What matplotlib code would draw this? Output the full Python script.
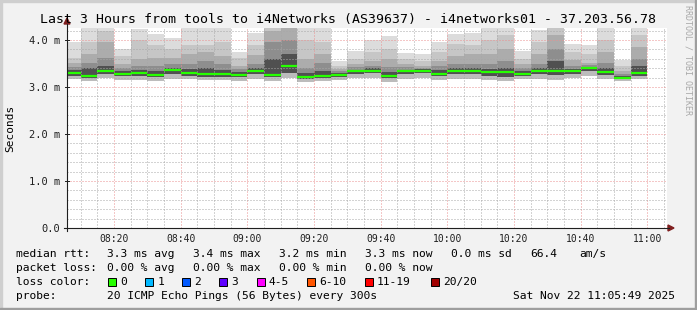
import numpy as np
import matplotlib
matplotlib.use("Agg")
import matplotlib.pyplot as plt
from matplotlib.lines import Line2D
from matplotlib.patches import Rectangle, Polygon

# ========================================
# Dados (ms), um passo de 5 min a partir de 08:05
# ========================================
rtt_max = [3.95, 4.40, 4.40, 3.81, 4.24, 4.13, 4.04, 4.40, 4.40, 4.40, 3.75, 4.15,
           4.40, 4.40, 4.40, 4.40, 3.56, 3.77, 3.99, 4.08, 3.73, 3.71, 3.96, 4.12,
           4.14, 4.30, 4.30, 3.76, 4.21, 4.40, 3.92, 3.89, 4.30, 3.57, 4.30]
rtt_p19 = [3.62, 3.96, 4.20, 3.65, 4.00, 3.90, 3.80, 3.90, 3.90, 3.95, 3.62, 3.90,
           4.35, 4.35, 4.00, 3.95, 3.45, 3.60, 3.75, 3.80, 3.60, 3.55, 3.75, 3.92,
           3.90, 4.00, 4.10, 3.60, 3.95, 4.30, 3.75, 3.70, 4.00, 3.45, 4.10]
rtt_p17 = [3.50, 3.70, 3.95, 3.48, 3.60, 3.62, 3.62, 3.70, 3.75, 3.65, 3.45, 3.68,
           4.20, 4.25, 3.60, 3.70, 3.38, 3.48, 3.55, 3.60, 3.48, 3.45, 3.55, 3.65,
           3.70, 3.70, 3.80, 3.48, 3.70, 4.10, 3.58, 3.52, 3.75, 3.35, 3.85]
rtt_p15 = [3.42, 3.52, 3.62, 3.40, 3.45, 3.45, 3.50, 3.48, 3.55, 3.48, 3.38, 3.50,
           3.95, 4.00, 3.40, 3.50, 3.33, 3.42, 3.45, 3.42, 3.42, 3.40, 3.45, 3.50,
           3.50, 3.50, 3.55, 3.40, 3.50, 3.80, 3.45, 3.46, 3.52, 3.28, 3.60]
rtt_p13 = [3.36, 3.40, 3.45, 3.33, 3.36, 3.35, 3.40, 3.38, 3.40, 3.36, 3.32, 3.40,
           3.60, 3.70, 3.30, 3.35, 3.29, 3.37, 3.40, 3.32, 3.37, 3.38, 3.36, 3.40,
           3.40, 3.38, 3.40, 3.34, 3.40, 3.55, 3.38, 3.43, 3.40, 3.23, 3.45]
rtt_median = [3.30, 3.23, 3.35, 3.28, 3.30, 3.26, 3.36, 3.30, 3.28, 3.28, 3.25, 3.33,
              3.26, 3.45, 3.21, 3.23, 3.26, 3.33, 3.35, 3.23, 3.33, 3.35, 3.28, 3.35,
              3.35, 3.31, 3.31, 3.28, 3.33, 3.33, 3.33, 3.41, 3.31, 3.19, 3.30]
rtt_p5 = [3.24, 3.20, 3.28, 3.23, 3.24, 3.21, 3.28, 3.24, 3.22, 3.22, 3.21, 3.27,
          3.21, 3.30, 3.18, 3.20, 3.22, 3.28, 3.30, 3.19, 3.27, 3.29, 3.23, 3.28,
          3.28, 3.24, 3.22, 3.24, 3.27, 3.25, 3.27, 3.33, 3.25, 3.17, 3.24]
rtt_min = [3.17, 3.12, 3.19, 3.15, 3.14, 3.13, 3.18, 3.16, 3.14, 3.14, 3.13, 3.18,
           3.13, 3.20, 3.10, 3.12, 3.15, 3.20, 3.20, 3.10, 3.18, 3.20, 3.14, 3.18,
           3.18, 3.15, 3.13, 3.16, 3.18, 3.14, 3.19, 3.24, 3.17, 3.12, 3.16]

tick_labels = ["08:20", "08:40", "09:00", "09:20", "09:40", "10:00", "10:20", "10:40", "11:00"]
y_labels = ["0.0", "1.0 m", "2.0 m", "3.0 m", "4.0 m"]
loss_labels = ["0", "1", "2", "3", "4-5", "6-10", "11-19", "20/20"]
loss_colors = ["#26ff00", "#00b8ff", "#0059ff", "#5e00ff", "#ff00ff", "#ff5500", "#ff0000", "#a10000"]

# ========================================
# Layout (pixels)
# ========================================
W, H = 697, 310
MONO = "DejaVu Sans Mono"


def fx(px):
    return px / W


def fy(py):
    return 1 - py / H


def minutes(hhmm):
    h, m = hhmm.split(":")
    return int(h) * 60 + int(m) - 480


fig = plt.figure(figsize=(W / 100, H / 100), dpi=100)
fig.patch.set_facecolor("#f2f2f2")

ax = fig.add_axes([fx(67), fy(228), 600 / W, 200 / H])
ax.set_facecolor("white")
for s in ax.spines.values():
    s.set_visible(False)

# ========================================
# Fumaça (bandas) + mediana
# ========================================
starts = 5 + 5 * np.arange(len(rtt_median))
levels = [np.array(v) for v in (rtt_max, rtt_p19, rtt_p17, rtt_p15, rtt_p13, rtt_p5, rtt_min)]
smoke = ["#dcdcdc", "#c6c6c6", "#acacac", "#8e8e8e", "#505050", "#bcbcbc"]
for upper, lower, c in zip(levels[:-1], levels[1:], smoke):
    ax.bar(starts, upper - lower, bottom=lower, width=5, align="edge",
           color=c, linewidth=0, zorder=1)
ax.hlines(rtt_median, starts, starts + 5, colors="#26ff00", linewidth=1.6, zorder=4)

ax.set_xlim(5.9, 185.9)
ax.set_ylim(0, 200 / 47)

# grade pontilhada por cima da fumaça
ax.set_yticks([0, 1, 2, 3, 4], y_labels)
ax.set_yticks(np.arange(0, 4.25, 0.2), minor=True)
ax.set_xticks([minutes(t) for t in tick_labels], tick_labels)
ax.set_xticks(np.arange(10, 186, 5), minor=True)
ax.grid(which="minor", color="#a8a8a8", linestyle=(0, (1, 2)), linewidth=0.72, zorder=2)
ax.grid(which="major", color="#eb9090", linestyle=(0, (1, 2)), linewidth=0.72, zorder=3)
ax.set_axisbelow(False)

ax.tick_params(axis="both", which="both", length=0, colors="#1f1f1f")
ax.tick_params(axis="y", which="major", pad=5, labelsize=7.5)
ax.tick_params(axis="x", which="major", pad=4, labelsize=7)
for lab in ax.get_xticklabels() + ax.get_yticklabels():
    lab.set_family(MONO)

# ========================================
# Eixos com setas
# ========================================
axis_col = "#1f1f1f"
arrow_col = "#801f1f"
fig.add_artist(Line2D([fx(67), fx(67)], [fy(231), fy(24)], color=axis_col, lw=0.8))
fig.add_artist(Line2D([fx(64), fx(669)], [fy(228), fy(228)], color=axis_col, lw=0.8))
fig.add_artist(Polygon([(fx(64), fy(24)), (fx(70), fy(24)), (fx(67), fy(18))],
                       closed=True, color=arrow_col, transform=fig.transFigure))
fig.add_artist(Polygon([(fx(668), fy(225)), (fx(668), fy(231)), (fx(674), fy(228))],
                       closed=True, color=arrow_col, transform=fig.transFigure))
for yv in [0, 1, 2, 3, 4]:
    py = 228 - yv * 47
    fig.add_artist(Line2D([fx(65), fx(69)], [fy(py), fy(py)], color=axis_col, lw=0.7))

# ========================================
# Textos
# ========================================
fig.text(fx(347.5), fy(19), "Last 3 Hours from tools to i4Networks (AS39637) - i4networks01 - 37.203.56.78",
         family=MONO, fontsize=9.5, ha="center", va="center")
fig.text(fx(10), fy(128), "Seconds", family=MONO, fontsize=8, rotation=90, ha="center", va="center")
fig.text(fx(688), fy(60), "RRDTOOL / TOBI OETIKER", family=MONO, fontsize=6, rotation=270,
         color="#a8a8a8", ha="center", va="center")

rows = [
    (254, [(16, "median rtt:"), (107, "3.3 ms avg"), (193, "3.4 ms max"), (279, "3.2 ms min"),
           (365, "3.3 ms now"), (451, "0.0 ms sd"), (530, "66.4"), (579, "am/s")]),
    (268, [(16, "packet loss:"), (107, "0.00 % avg"), (193, "0.00 % max"), (279, "0.00 % min"),
           (365, "0.00 % now")]),
    (282, [(16, "loss color:")]),
    (296, [(16, "probe:"), (107, "20 ICMP Echo Pings (56 Bytes) every 300s"),
           (513, "Sat Nov 22 11:05:49 2025")]),
]
for py, items in rows:
    for px, txt in items:
        fig.text(fx(px), fy(py), txt, family=MONO, fontsize=8.1, ha="left", va="center")

box_x = [108, 145.3, 182.3, 219.3, 256.7, 307.3, 365, 430.7]
for bx, lab, col in zip(box_x, loss_labels, loss_colors):
    fig.add_artist(Rectangle((fx(bx), fy(286)), 8 / W, 8 / H, facecolor=col,
                             edgecolor="black", linewidth=0.7, transform=fig.transFigure))
    fig.text(fx(bx + 12), fy(282), lab, family=MONO, fontsize=8.1, ha="left", va="center")

# moldura
fig.add_artist(Rectangle((0, fy(2)), 1, 2 / H, color="#cfcfcf", transform=fig.transFigure))
fig.add_artist(Rectangle((0, 0), 2 / W, 1, color="#cfcfcf", transform=fig.transFigure))
fig.add_artist(Rectangle((0, 0), 1, 2 / H, color="#9e9e9e", transform=fig.transFigure))
fig.add_artist(Rectangle((fx(695), 0), 2 / W, 1, color="#9e9e9e", transform=fig.transFigure))

fig.savefig("out.png", dpi=100, facecolor=fig.get_facecolor())
